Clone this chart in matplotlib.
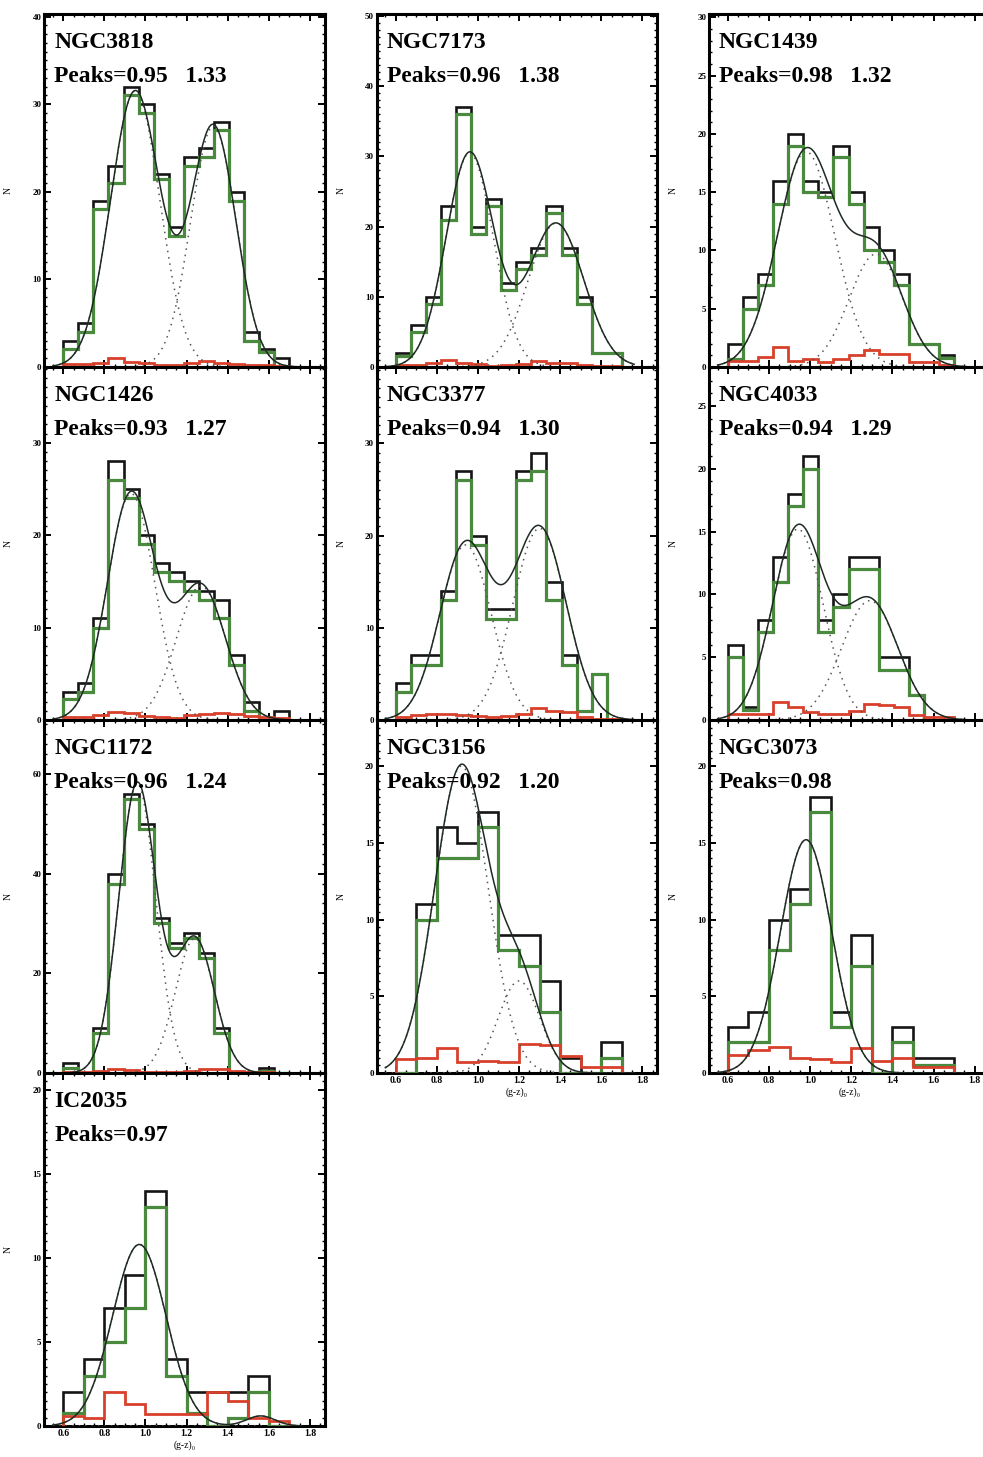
import matplotlib
matplotlib.use('Agg')
import matplotlib.pyplot as plt
from matplotlib.ticker import MultipleLocator
import numpy as np

plt.rcParams['font.family'] = ['Liberation Serif', 'DejaVu Serif']
plt.rcParams['font.weight'] = 'bold'

# panels listed column by column, top to bottom
galaxies = ['NGC3818', 'NGC1426', 'NGC1172', 'IC2035',
            'NGC7173', 'NGC3377', 'NGC3156',
            'NGC1439', 'NGC4033', 'NGC3073']
peak_labels = ['Peaks=0.95   1.33', 'Peaks=0.93   1.27', 'Peaks=0.96   1.24', 'Peaks=0.97',
               'Peaks=0.96   1.38', 'Peaks=0.94   1.30', 'Peaks=0.92   1.20',
               'Peaks=0.98   1.32', 'Peaks=0.94   1.29', 'Peaks=0.98']
panel_col = [0, 0, 0, 0, 1, 1, 1, 2, 2, 2]
panel_row = [0, 1, 2, 3, 0, 1, 2, 0, 1, 2]

# number of colour bins between 0.6 and 1.7
n_bins = [15, 15, 15, 11, 15, 15, 11, 15, 15, 11]

# raw counts (black)
black_counts = [
    [3, 5, 19, 23, 32, 30, 22, 16, 24, 25, 28, 20, 4, 2, 1],
    [3, 4, 11, 28, 25, 20, 17, 16, 15, 14, 13, 7, 2, 0, 1],
    [2, 0, 9, 40, 56, 50, 31, 26, 28, 24, 9, 0, 0, 1, 0],
    [2, 4, 7, 9, 14, 4, 2, 2, 2, 3, 0],
    [2, 6, 10, 23, 37, 20, 24, 12, 15, 17, 23, 17, 10, 2, 2],
    [4, 7, 7, 14, 27, 20, 12, 12, 27, 29, 15, 7, 1, 5, 0],
    [0, 11, 16, 15, 17, 9, 9, 6, 1, 0, 2],
    [2, 6, 8, 16, 20, 16, 15, 19, 15, 12, 10, 8, 2, 2, 1],
    [6, 1, 8, 13, 18, 21, 8, 10, 13, 13, 5, 5, 2, 0, 0],
    [3, 4, 10, 12, 18, 4, 9, 0, 3, 1, 1],
]
# background corrected counts (green)
green_counts = [
    [2, 4, 18, 21, 31, 29, 21.5, 15, 23, 24, 27, 19, 3, 1.7, 0],
    [2.3, 3, 10, 26, 24, 19, 16, 15, 14, 13, 11, 6, 1, 0, 0],
    [1, 0, 8, 38, 55, 49, 30, 25, 27, 23, 8, 0, 0, 0.5, 0],
    [0.8, 3, 5, 7, 13, 3, 0.8, 0, 0.5, 2, 0],
    [1.5, 5, 9, 21, 36, 19, 23, 11, 14, 16, 22, 16, 9, 2, 2],
    [3, 6, 6, 13, 26, 19, 11, 11, 26, 27, 13, 6, 1, 5, 0],
    [0, 10, 14, 14, 16, 8, 7, 4, 0, 0, 1],
    [0.7, 5, 7, 14, 19, 15, 14.6, 18, 14, 10, 9, 7, 2, 2, 0.8],
    [5, 0.8, 7, 11, 17, 20, 7, 9, 12, 12, 4, 4, 2, 0, 0],
    [2, 2, 8, 11, 17, 3, 7, 0, 2, 0.5, 0.5],
]
# background estimate (red)
red_counts = [
    [0.3, 0.3, 0.4, 1.0, 0.6, 0.4, 0.2, 0.2, 0.5, 0.7, 0.5, 0.3, 0.2, 0.2, 0.1],
    [0.3, 0.3, 0.5, 0.9, 0.8, 0.4, 0.3, 0.2, 0.5, 0.7, 0.8, 0.6, 0.4, 0.3, 0.2],
    [0.2, 0.2, 0.4, 0.8, 0.7, 0.3, 0.3, 0.3, 0.4, 0.8, 0.8, 0.4, 0.2, 0.2, 0.1],
    [0.6, 0.5, 2.0, 1.3, 0.7, 0.7, 0.7, 2.0, 1.5, 0.5, 0.3],
    [0.3, 0.3, 0.5, 1.0, 0.5, 0.4, 0.2, 0.3, 0.4, 0.9, 0.6, 0.5, 0.3, 0.2, 0.1],
    [0.3, 0.5, 0.6, 0.7, 0.5, 0.4, 0.3, 0.4, 0.6, 1.3, 1.0, 0.9, 0.3, 0.1, 0.1],
    [0.9, 1.0, 1.6, 0.7, 0.8, 0.7, 1.9, 1.8, 1.1, 0.4, 0.4],
    [0.5, 0.5, 0.9, 1.7, 0.5, 0.7, 0.4, 0.7, 1.0, 1.5, 1.1, 1.1, 0.4, 0.4, 0.2],
    [0.5, 0.5, 0.5, 1.4, 1.0, 0.6, 0.5, 0.5, 0.7, 1.3, 1.2, 1.0, 0.4, 0.2, 0.2],
    [1.2, 1.5, 1.7, 1.0, 0.9, 0.7, 1.6, 0.8, 1.0, 0.4, 0.4],
]

# gaussian components of the fits: centre, amplitude, sigma
fit_mu = [[0.95, 1.33], [0.93, 1.27], [0.96, 1.24], [0.97, 1.56],
          [0.96, 1.38], [0.94, 1.30], [0.92, 1.20],
          [0.98, 1.32], [0.94, 1.29], [0.98]]
fit_amp = [[31.5, 27.5], [24.5, 14.5], [58, 27], [10.8, 0.6],
           [30.5, 20.5], [19, 20.8], [20, 6],
           [18.5, 9.7], [15.2, 9.5], [15.2]]
fit_sig = [[0.12, 0.11], [0.115, 0.12], [0.09, 0.095], [0.13, 0.07],
           [0.115, 0.135], [0.125, 0.13], [0.13, 0.10],
           [0.14, 0.13], [0.123, 0.137], [0.125]]

y_max = [40.3, 38.2, 70.8, 21, 50.3, 38.3, 23, 30.3, 28.1, 23]
y_major = [10, 10, 20, 5, 10, 10, 5, 5, 5, 5]
y_minor = [1, 1, 2, 0.5, 1, 1, 0.5, 1, 1, 0.5]

W, H = 983, 1457
col_left = [44.3, 376.7, 709.0]
row_top = [14, 367, 720, 1073]
ax_w, ax_h = 280.7, 353

fig = plt.figure(figsize=(W / 100, H / 100), dpi=100)

xx = np.linspace(0.55, 1.76, 400)

for i, name in enumerate(galaxies):
    c, r = panel_col[i], panel_row[i]
    left = col_left[c] / W
    bottom = 1 - (row_top[r] + ax_h) / H
    ax = fig.add_axes([left, bottom, ax_w / W, ax_h / H])

    edges = np.linspace(0.6, 1.7, n_bins[i] + 1)
    ax.stairs(black_counts[i], edges, color='#151515', lw=1.9, zorder=2)
    ax.stairs(green_counts[i], edges, color='#4a8a3e', lw=2.3, zorder=3)
    ax.stairs(red_counts[i], edges, color='#d8402c', lw=2.0, zorder=4)

    total = np.zeros_like(xx)
    for mu, amp, sig in zip(fit_mu[i], fit_amp[i], fit_sig[i]):
        g = amp * np.exp(-(xx - mu) ** 2 / (2 * sig ** 2))
        total += g
        ax.plot(xx, g, color='#555555', lw=1.1, ls=(0, (1, 3.2)), zorder=5)
    ax.plot(xx, total, color='#1e2a22', lw=1.1, zorder=6)

    ax.set_xlim(0.508, 1.873)
    ax.set_ylim(0, y_max[i])
    ax.xaxis.set_major_locator(MultipleLocator(0.2))
    ax.xaxis.set_minor_locator(MultipleLocator(0.05))
    ax.yaxis.set_major_locator(MultipleLocator(y_major[i]))
    ax.yaxis.set_minor_locator(MultipleLocator(y_minor[i]))
    ax.tick_params(which='both', direction='in', top=True, right=True,
                   labelsize=6.5, pad=2)
    ax.tick_params(which='major', length=5, width=1.4)
    ax.tick_params(which='minor', length=2.5, width=1.0)
    for sp in ax.spines.values():
        sp.set_linewidth(2.2)

    ax.set_ylabel('N', fontsize=7, labelpad=0)
    ax.yaxis.set_label_coords(-0.112, 0.5)

    last = (c == 0 and r == 3) or (c > 0 and r == 2)
    if last:
        ax.xaxis.set_major_formatter(plt.FormatStrFormatter('%.1f'))
        ax.tick_params(axis='x', labelsize=7)
        ax.set_xlabel('(g-z)\u2080', fontsize=7, labelpad=2)
    else:
        ax.set_xticklabels([])

    ax.text(0.035, 0.92, name, transform=ax.transAxes, fontsize=17,
            fontweight='bold', va='center', ha='left', zorder=7)
    ax.text(0.035, 0.822, peak_labels[i], transform=ax.transAxes, fontsize=17,
            fontweight='bold', va='center', ha='left', zorder=7)

fig.savefig('out.png', dpi=100)
